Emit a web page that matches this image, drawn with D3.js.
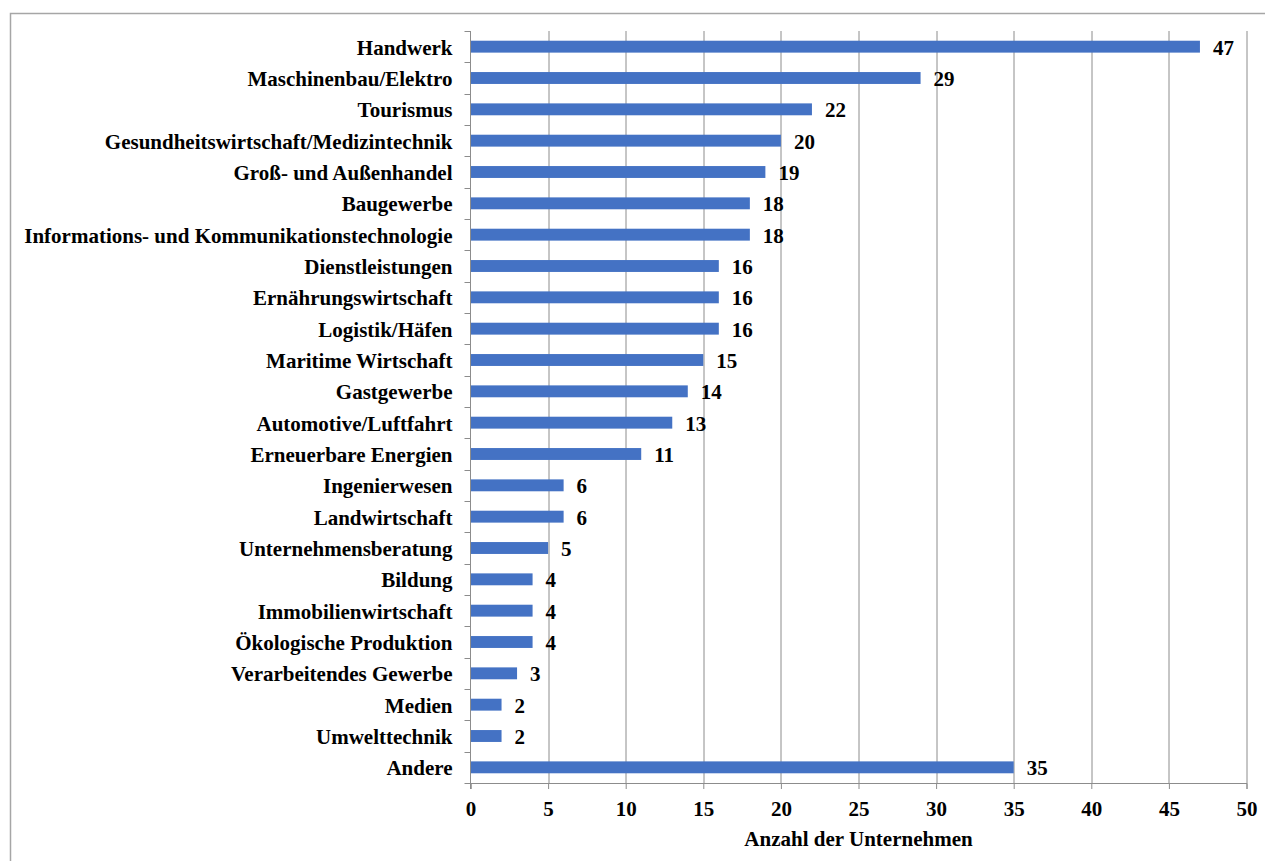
<!DOCTYPE html>
<html>
<head>
<meta charset="utf-8">
<script src="https://cdn.jsdelivr.net/npm/d3@7"></script>
<style>
  body { margin: 0; background: #fff; }
  svg { display: block; }
  text { font-family: "Liberation Serif", "Times New Roman", serif; font-weight: bold; fill: #000; }
</style>
</head>
<body>
<svg class="chart"></svg>
<script>
// Branchen und Anzahl der Unternehmen, von oben nach unten
var categories = [
    "Handwerk", "Maschinenbau/Elektro", "Tourismus", "Gesundheitswirtschaft/Medizintechnik",
    "Groß- und Außenhandel", "Baugewerbe", "Informations- und Kommunikationstechnologie",
    "Dienstleistungen", "Ernährungswirtschaft", "Logistik/Häfen", "Maritime Wirtschaft",
    "Gastgewerbe", "Automotive/Luftfahrt", "Erneuerbare Energien", "Ingenierwesen",
    "Landwirtschaft", "Unternehmensberatung", "Bildung", "Immobilienwirtschaft",
    "Ökologische Produktion", "Verarbeitendes Gewerbe", "Medien", "Umwelttechnik", "Andere"
];
var values = [47, 29, 22, 20, 19, 18, 18, 16, 16, 16, 15, 14, 13, 11, 6, 6, 5, 4, 4, 4, 3, 2, 2, 35];
var xTicks = [0, 5, 10, 15, 20, 25, 30, 35, 40, 45, 50];
var xTitle = "Anzahl der Unternehmen";

window.onload = function () {
    var width = 1265, height = 861;
    var margin = { left: 470.5, right: 18.5, top: 31, bottom: 78 }; // plot area edges
    var plotW = width - margin.left - margin.right;
    var plotH = height - margin.top - margin.bottom;
    var fontSize = "21px";

    var svg = d3.select("svg.chart").attr("width", width).attr("height", height);

    // outer frame, runs off the right and bottom of the picture
    svg.append("rect")
        .attr("x", 10.5).attr("y", 13.5)
        .attr("width", 1300).attr("height", 900)
        .attr("fill", "none").attr("stroke", "#a6a6a6").attr("stroke-width", 1.5);

    var x = d3.scaleLinear().domain([0, 50]).range([0, plotW]);
    var y = d3.scaleBand().domain(categories).range([0, plotH]).paddingInner(0.62).paddingOuter(0.31);

    var g = svg.append("g").attr("transform", "translate(" + margin.left + "," + margin.top + ")");

    // vertical gridlines
    g.selectAll("line.grid")
        .data(xTicks.slice(1))
        .enter().append("line")
        .attr("class", "grid")
        .attr("x1", d => Math.round(x(d)) + 0.5).attr("x2", d => Math.round(x(d)) + 0.5)
        .attr("y1", 0).attr("y2", plotH)
        .attr("stroke", "#8c8c8c").attr("stroke-width", 1);

    // bars
    g.selectAll("rect.bar")
        .data(values)
        .enter().append("rect")
        .attr("class", "bar")
        .attr("x", 0)
        .attr("y", (d, i) => y(categories[i]))
        .attr("width", d => x(d))
        .attr("height", y.bandwidth())
        .attr("fill", "#4472c4");

    // value labels
    g.selectAll("text.val")
        .data(values)
        .enter().append("text")
        .attr("class", "val")
        .attr("x", d => x(d) + 13)
        .attr("y", (d, i) => y(categories[i]) + y.bandwidth() / 2)
        .attr("dy", "0.38em")
        .style("font-size", fontSize)
        .text(d => d);

    // x axis
    var xAxis = g.append("g")
        .attr("transform", "translate(0," + plotH + ")")
        .call(d3.axisBottom(x).tickValues(xTicks).tickSize(6).tickPadding(12));
    xAxis.select(".domain").attr("stroke", "#8c8c8c");
    xAxis.selectAll(".tick line").attr("stroke", "#8c8c8c");
    xAxis.selectAll(".tick text").style("font-size", fontSize).attr("font-family", null);

    // y axis: category ticks sit at band boundaries
    var step = plotH / categories.length;
    var yAxis = g.append("g");
    yAxis.append("line")
        .attr("x1", 0).attr("x2", 0).attr("y1", 0).attr("y2", plotH + 6)
        .attr("stroke", "#8c8c8c");
    yAxis.selectAll("line.ytick")
        .data(d3.range(categories.length + 1))
        .enter().append("line")
        .attr("class", "ytick")
        .attr("x1", -6).attr("x2", 0)
        .attr("y1", d => Math.round(d * step) + 0.5).attr("y2", d => Math.round(d * step) + 0.5)
        .attr("stroke", "#8c8c8c");
    yAxis.selectAll("text")
        .data(categories)
        .enter().append("text")
        .attr("x", -18)
        .attr("y", d => y(d) + y.bandwidth() / 2)
        .attr("dy", "0.38em")
        .attr("text-anchor", "end")
        .style("font-size", fontSize)
        .text(d => d);

    // axis title
    svg.append("text")
        .attr("x", margin.left + plotW / 2)
        .attr("y", 846)
        .attr("text-anchor", "middle")
        .style("font-size", fontSize)
        .text(xTitle);
};
</script>
</body>
</html>
